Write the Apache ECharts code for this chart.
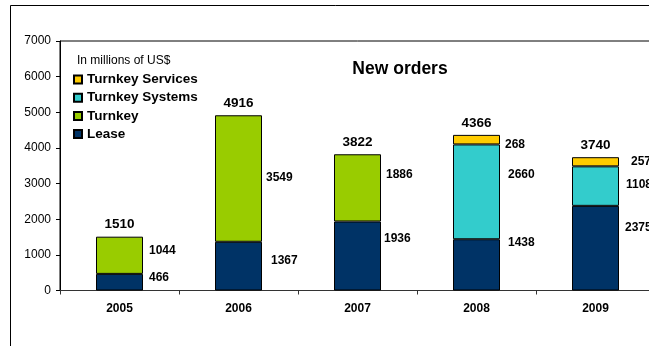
<!DOCTYPE html>
<html>
<head>
<meta charset="utf-8">
<script src="https://cdn.jsdelivr.net/npm/echarts@6/dist/echarts.min.js"></script>
<style>
html,body{margin:0;padding:0;background:#fff;overflow:hidden;}
#chart{width:660px;height:346px;}
</style>
</head>
<body>
<div id="chart"></div>
<script>
// ---- data ----
var categories = ['2005', '2006', '2007', '2008', '2009'];
var lease = [466, 1367, 1936, 1438, 2375];
var turnkey = [1044, 3549, 1886, null, null];
var turnkeySystems = [null, null, null, 2660, 1108];
var turnkeyServices = [null, null, null, 268, 257];
var totals = [1510, 4916, 3822, 4366, 3740];
var yTicks = [0, 1000, 2000, 3000, 4000, 5000, 6000, 7000];

// ---- label nudges (styling only, px) ----
var leaseNudge = [[1, -5], [4, -5], [-2, -17], [3, -22], [1, -20]];
var turnkeyNudge = [[1, -5], [-1, -1], [0, -13], [0, 0], [0, 0]];
var systemsNudge = [[0, 0], [0, 0], [0, 0], [3, -17], [2, -1]];
var servicesNudge = [[0, 0], [0, 0], [0, 0], [0, 5], [7, 0]];

var FONT = 'Arial, "Liberation Sans", sans-serif';

function withNudges(values, nudges) {
  return values.map(function (v, i) {
    if (v === null) return '-';
    return { value: v, label: { offset: nudges[i] } };
  });
}

function barSeries(name, values, nudges, color) {
  return {
    name: name,
    type: 'bar',
    stack: 'total',
    barWidth: 47,
    data: withNudges(values, nudges),
    itemStyle: { color: color, borderColor: '#000', borderWidth: 1 },
    label: {
      show: true,
      position: 'right',
      distance: 5,
      fontFamily: FONT,
      fontSize: 12,
      fontWeight: 'bold',
      color: '#000'
    },
    emphasis: { disabled: true }
  };
}

var chart = echarts.init(document.getElementById('chart'), null, { renderer: 'canvas' });
chart.setOption({
  animation: false,
  backgroundColor: '#fff',
  textStyle: { fontFamily: FONT },
  title: {
    text: 'New orders',
    left: 395,
    top: 55,
    textAlign: 'center',
    textStyle: { fontFamily: FONT, fontSize: 17.5, fontWeight: 'bold', color: '#000' }
  },
  graphic: [
    {
      type: 'rect',
      shape: { x: 10.5, y: 5.5, width: 700, height: 400 },
      style: { fill: 'none', stroke: '#000', lineWidth: 1 },
      silent: true,
      z: 100
    },
    {
      type: 'text',
      left: 77,
      top: 55,
      style: { text: 'In millions of US$', fontFamily: FONT, fontSize: 12, fill: '#000' }
    }
  ],
  legend: {
    orient: 'vertical',
    left: 73,
    top: 72.5,
    padding: 0,
    itemWidth: 8,
    itemHeight: 8,
    itemGap: 4.2,
    icon: 'rect',
    data: ['Turnkey Services', 'Turnkey Systems', 'Turnkey', 'Lease'],
    textStyle: { fontFamily: FONT, fontSize: 13.5, fontWeight: 'bold', color: '#000', lineHeight: 14, padding: [0, 0, 0, 0] },
    selectedMode: false
  },
  grid: {
    left: 60,
    top: 41,
    width: 595,
    height: 249.5,
    show: true,
    borderColor: '#000',
    borderWidth: 1,
    backgroundColor: 'transparent'
  },
  xAxis: {
    type: 'category',
    data: categories,
    axisLine: { lineStyle: { color: '#333', width: 1 } },
    axisTick: { show: true, alignWithLabel: false, length: 4, lineStyle: { color: '#333' } },
    axisLabel: { fontFamily: FONT, fontSize: 12, fontWeight: 'bold', color: '#000', margin: 12 }
  },
  yAxis: {
    type: 'value',
    min: yTicks[0],
    max: yTicks[yTicks.length - 1],
    interval: yTicks[1] - yTicks[0],
    axisLine: { show: true, lineStyle: { color: '#000', width: 1 } },
    axisTick: { show: true, length: 4, lineStyle: { color: '#000' } },
    splitLine: { show: false },
    axisLabel: {
      fontFamily: FONT, fontSize: 12, color: '#000', margin: 9,
      formatter: function (v) { return String(v); }
    }
  },
  series: [
    barSeries('Lease', lease, leaseNudge, '#003366'),
    barSeries('Turnkey', turnkey, turnkeyNudge, '#99CC00'),
    barSeries('Turnkey Systems', turnkeySystems, systemsNudge, '#33CCCC'),
    barSeries('Turnkey Services', turnkeyServices, servicesNudge, '#FFCC00'),
    {
      name: 'Total',
      type: 'scatter',
      data: totals,
      symbolSize: 0,
      itemStyle: { color: 'rgba(0,0,0,0)', opacity: 1 },
      label: {
        show: true,
        position: 'top',
        distance: 5,
        fontFamily: FONT,
        fontSize: 13.5,
        fontWeight: 'bold',
        color: '#000',
        opacity: 1
      },
      emphasis: { disabled: true },
      z: 10
    }
  ]
});
</script>
</body>
</html>
